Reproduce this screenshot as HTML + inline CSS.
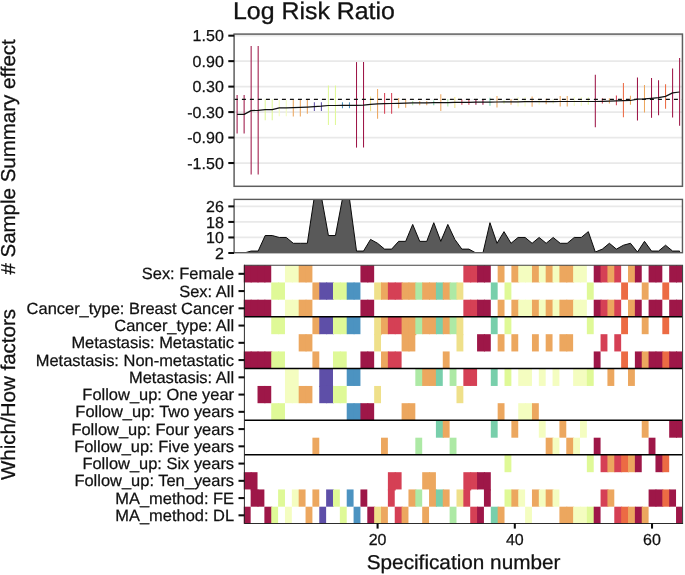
<!DOCTYPE html>
<html lang="en"><head><meta charset="utf-8"><title>Log Risk Ratio</title>
<style>html,body{margin:0;padding:0;background:#fff}svg{display:block;will-change:transform;opacity:.999}text{text-rendering:geometricPrecision}</style></head>
<body>
<svg width="685" height="575" viewBox="0 0 685 575" font-family="Liberation Sans, Arial, Helvetica, sans-serif">
<rect width="685" height="575" fill="#fff"/>
<text transform="translate(233.0,18.85) scale(1.0375,1)" font-size="24.0" fill="#111" stroke="#111" stroke-width="0.3">Log Risk Ratio</text>
<g id="top">
<line x1="234.1" x2="682.45" y1="35.67" y2="35.67" stroke="#E9E9E9" stroke-width="1.75"/>
<line x1="234.1" x2="682.45" y1="61.14" y2="61.14" stroke="#E9E9E9" stroke-width="1.75"/>
<line x1="234.1" x2="682.45" y1="86.61" y2="86.61" stroke="#E9E9E9" stroke-width="1.75"/>
<line x1="234.1" x2="682.45" y1="112.08" y2="112.08" stroke="#E9E9E9" stroke-width="1.75"/>
<line x1="234.1" x2="682.45" y1="137.56" y2="137.56" stroke="#E9E9E9" stroke-width="1.75"/>
<line x1="234.1" x2="682.45" y1="163.03" y2="163.03" stroke="#E9E9E9" stroke-width="1.75"/>
<line x1="237.10" x2="237.10" y1="94.9" y2="133.6" stroke="#9E1748" stroke-width="1.05"/>
<line x1="244.12" x2="244.12" y1="94.9" y2="133.6" stroke="#9E1748" stroke-width="1.05"/>
<line x1="251.15" x2="251.15" y1="46.1" y2="174.4" stroke="#9E1748" stroke-width="1.05"/>
<line x1="258.17" x2="258.17" y1="46.1" y2="174.4" stroke="#9E1748" stroke-width="1.05"/>
<line x1="265.20" x2="265.20" y1="99.5" y2="120.2" stroke="#DFF997" stroke-width="1.05"/>
<line x1="272.22" x2="272.22" y1="99.5" y2="120.2" stroke="#DFF997" stroke-width="1.05"/>
<line x1="279.24" x2="279.24" y1="100" y2="116.2" stroke="#F4FDC0" stroke-width="1.05"/>
<line x1="286.27" x2="286.27" y1="100" y2="116.2" stroke="#F4FDC0" stroke-width="1.05"/>
<line x1="293.29" x2="293.29" y1="100" y2="116.4" stroke="#ECA75F" stroke-width="1.05"/>
<line x1="300.32" x2="300.32" y1="100" y2="116.4" stroke="#ECA75F" stroke-width="1.05"/>
<line x1="307.34" x2="307.34" y1="100" y2="113.7" stroke="#ECA75F" stroke-width="1.05"/>
<line x1="314.36" x2="314.36" y1="102.2" y2="110.9" stroke="#5E4FA8" stroke-width="1.05"/>
<line x1="321.39" x2="321.39" y1="102.2" y2="110.9" stroke="#5E4FA8" stroke-width="1.05"/>
<line x1="328.41" x2="328.41" y1="85.5" y2="125" stroke="#DFF997" stroke-width="1.05"/>
<line x1="335.44" x2="335.44" y1="85.5" y2="125" stroke="#DFF997" stroke-width="1.05"/>
<line x1="342.46" x2="342.46" y1="102.3" y2="108.2" stroke="#4C93C1" stroke-width="1.05"/>
<line x1="349.48" x2="349.48" y1="102.3" y2="108.2" stroke="#4C93C1" stroke-width="1.05"/>
<line x1="356.51" x2="356.51" y1="62.1" y2="147.6" stroke="#9E1748" stroke-width="1.05"/>
<line x1="363.53" x2="363.53" y1="62.1" y2="147.6" stroke="#9E1748" stroke-width="1.05"/>
<line x1="370.56" x2="370.56" y1="96.6" y2="111.3" stroke="#EFE08A" stroke-width="1.05"/>
<line x1="377.58" x2="377.58" y1="89.0" y2="118.8" stroke="#ECA75F" stroke-width="1.05"/>
<line x1="384.60" x2="384.60" y1="93.1" y2="113.75" stroke="#D54055" stroke-width="1.05"/>
<line x1="391.63" x2="391.63" y1="93.1" y2="113.75" stroke="#D54055" stroke-width="1.05"/>
<line x1="398.65" x2="398.65" y1="98" y2="108.3" stroke="#ECA75F" stroke-width="1.05"/>
<line x1="405.68" x2="405.68" y1="99.6" y2="107.8" stroke="#ECA75F" stroke-width="1.05"/>
<line x1="412.70" x2="412.70" y1="101" y2="105.3" stroke="#ADE9A5" stroke-width="1.05"/>
<line x1="419.72" x2="419.72" y1="101" y2="105.2" stroke="#ECA75F" stroke-width="1.05"/>
<line x1="426.75" x2="426.75" y1="101" y2="105.2" stroke="#ECA75F" stroke-width="1.05"/>
<line x1="433.77" x2="433.77" y1="100.4" y2="105.2" stroke="#78CFAB" stroke-width="1.05"/>
<line x1="440.80" x2="440.80" y1="94.3" y2="110.95" stroke="#ECA75F" stroke-width="1.05"/>
<line x1="447.82" x2="447.82" y1="99" y2="106.6" stroke="#ADE9A5" stroke-width="1.05"/>
<line x1="454.84" x2="454.84" y1="96.9" y2="108" stroke="#EFE08A" stroke-width="1.05"/>
<line x1="461.87" x2="461.87" y1="99.6" y2="104.8" stroke="#D54055" stroke-width="1.05"/>
<line x1="468.89" x2="468.89" y1="99.6" y2="104.8" stroke="#D54055" stroke-width="1.05"/>
<line x1="475.92" x2="475.92" y1="99.6" y2="104.8" stroke="#9E1748" stroke-width="1.05"/>
<line x1="482.94" x2="482.94" y1="99.6" y2="104.8" stroke="#9E1748" stroke-width="1.05"/>
<line x1="489.96" x2="489.96" y1="97.8" y2="105.7" stroke="#78CFAB" stroke-width="1.05"/>
<line x1="496.99" x2="496.99" y1="96.1" y2="107.5" stroke="#ECA75F" stroke-width="1.05"/>
<line x1="504.01" x2="504.01" y1="100.3" y2="103.8" stroke="#DFF997" stroke-width="1.05"/>
<line x1="511.04" x2="511.04" y1="99.05" y2="104.8" stroke="#ECA75F" stroke-width="1.05"/>
<line x1="518.06" x2="518.06" y1="96.95" y2="106.6" stroke="#F4FDC0" stroke-width="1.05"/>
<line x1="525.08" x2="525.08" y1="96.95" y2="106.6" stroke="#F4FDC0" stroke-width="1.05"/>
<line x1="532.11" x2="532.11" y1="96.6" y2="106.8" stroke="#ECA75F" stroke-width="1.05"/>
<line x1="539.13" x2="539.13" y1="99.6" y2="104.8" stroke="#F4FDC0" stroke-width="1.05"/>
<line x1="546.16" x2="546.16" y1="98.7" y2="104.3" stroke="#ECA75F" stroke-width="1.05"/>
<line x1="553.18" x2="553.18" y1="99.6" y2="104" stroke="#F4FDC0" stroke-width="1.05"/>
<line x1="560.20" x2="560.20" y1="96.1" y2="106.6" stroke="#ECA75F" stroke-width="1.05"/>
<line x1="567.23" x2="567.23" y1="96.1" y2="106.6" stroke="#ECA75F" stroke-width="1.05"/>
<line x1="574.25" x2="574.25" y1="96.9" y2="106" stroke="#F4FDC0" stroke-width="1.05"/>
<line x1="581.28" x2="581.28" y1="96.9" y2="106" stroke="#F4FDC0" stroke-width="1.05"/>
<line x1="588.30" x2="588.30" y1="97.5" y2="104.8" stroke="#DFF997" stroke-width="1.05"/>
<line x1="595.32" x2="595.32" y1="74.7" y2="127.2" stroke="#9E1748" stroke-width="1.05"/>
<line x1="602.35" x2="602.35" y1="98.3" y2="103.6" stroke="#D54055" stroke-width="1.05"/>
<line x1="609.37" x2="609.37" y1="98.3" y2="103.4" stroke="#ECA75F" stroke-width="1.05"/>
<line x1="616.40" x2="616.40" y1="95.4" y2="105.3" stroke="#D54055" stroke-width="1.05"/>
<line x1="623.42" x2="623.42" y1="83.1" y2="117.3" stroke="#EC6B44" stroke-width="1.05"/>
<line x1="630.44" x2="630.44" y1="95.7" y2="104.8" stroke="#ECA75F" stroke-width="1.05"/>
<line x1="637.47" x2="637.47" y1="77.5" y2="120.6" stroke="#9E1748" stroke-width="1.05"/>
<line x1="644.49" x2="644.49" y1="85" y2="112.5" stroke="#ECA75F" stroke-width="1.05"/>
<line x1="651.52" x2="651.52" y1="78" y2="117.8" stroke="#9E1748" stroke-width="1.05"/>
<line x1="658.54" x2="658.54" y1="80.3" y2="115.3" stroke="#9E1748" stroke-width="1.05"/>
<line x1="665.56" x2="665.56" y1="84.3" y2="108.85" stroke="#EC6B44" stroke-width="1.05"/>
<line x1="672.59" x2="672.59" y1="68.4" y2="117.4" stroke="#9E1748" stroke-width="1.05"/>
<line x1="679.61" x2="679.61" y1="58" y2="125.7" stroke="#9E1748" stroke-width="1.05"/>
<polyline points="237.10,114.4 244.12,114.4 251.15,110.6 258.17,110.4 265.20,109.7 272.22,109.6 279.24,107.8 286.27,107.8 293.29,107.6 300.32,107.4 307.34,107.1 314.36,106.7 321.39,106.2 328.41,105.5 335.44,105.5 342.46,105.3 349.48,105.3 356.51,105.3 363.53,105.2 370.56,104.30000000000001 377.58,103.80000000000001 384.60,103.60000000000001 391.63,103.5 398.65,103.30000000000001 405.68,103.10000000000001 412.70,102.9 419.72,102.9 426.75,102.80000000000001 433.77,102.7 440.80,102.60000000000001 447.82,102.60000000000001 454.84,102.4 461.87,102.35000000000001 468.89,102.30000000000001 475.92,102.2 482.94,102.2 489.96,102.10000000000001 496.99,102.0 504.01,101.9 511.04,101.80000000000001 518.06,101.80000000000001 525.08,101.7 532.11,101.7 539.13,101.60000000000001 546.16,101.60000000000001 553.18,101.60000000000001 560.20,101.5 567.23,101.5 574.25,101.5 581.28,101.5 588.30,101.5 595.32,101.5 602.35,101.30000000000001 609.37,101.10000000000001 616.40,100.9 623.42,100.7 630.44,100.5 637.47,99.2 644.49,98.9 651.52,98.3 658.54,97.6 665.56,96.4 672.59,92.9 679.61,92.0" fill="none" stroke="#111" stroke-width="1.2" stroke-linejoin="round"/>
<line x1="233.9" x2="682.45" y1="99.4" y2="99.4" stroke="#111" stroke-width="1.1" stroke-dasharray="4 4"/>
<rect x="234.1" y="34.1" width="448.35" height="152.20000000000002" fill="none" stroke="#5e5e5e" stroke-width="1.5"/>
<line x1="228.3" x2="234.1" y1="35.67" y2="35.67" stroke="#0d0d0d" stroke-width="2.05"/>
<text transform="translate(223.8,41.47) scale(1.008,1)" font-size="15.9" text-anchor="end" fill="#111" stroke="#111" stroke-width="0.25">1.50</text>
<line x1="228.3" x2="234.1" y1="61.14" y2="61.14" stroke="#0d0d0d" stroke-width="2.05"/>
<text transform="translate(223.8,66.94) scale(1.008,1)" font-size="15.9" text-anchor="end" fill="#111" stroke="#111" stroke-width="0.25">0.90</text>
<line x1="228.3" x2="234.1" y1="86.61" y2="86.61" stroke="#0d0d0d" stroke-width="2.05"/>
<text transform="translate(223.8,92.41) scale(1.008,1)" font-size="15.9" text-anchor="end" fill="#111" stroke="#111" stroke-width="0.25">0.30</text>
<line x1="228.3" x2="234.1" y1="112.08" y2="112.08" stroke="#0d0d0d" stroke-width="2.05"/>
<text transform="translate(223.8,117.88) scale(1.008,1)" font-size="15.9" text-anchor="end" fill="#111" stroke="#111" stroke-width="0.25">-0.30</text>
<line x1="228.3" x2="234.1" y1="137.56" y2="137.56" stroke="#0d0d0d" stroke-width="2.05"/>
<text transform="translate(223.8,143.36) scale(1.008,1)" font-size="15.9" text-anchor="end" fill="#111" stroke="#111" stroke-width="0.25">-0.90</text>
<line x1="228.3" x2="234.1" y1="163.03" y2="163.03" stroke="#0d0d0d" stroke-width="2.05"/>
<text transform="translate(223.8,168.83) scale(1.008,1)" font-size="15.9" text-anchor="end" fill="#111" stroke="#111" stroke-width="0.25">-1.50</text>
</g>
<g id="mid">
<clipPath id="cm"><rect x="234.1" y="199.4" width="448.35" height="53.29999999999998"/></clipPath>
<line x1="234.1" x2="682.45" y1="206.39" y2="206.39" stroke="#E9E9E9" stroke-width="1.75"/>
<line x1="234.1" x2="682.45" y1="221.93" y2="221.93" stroke="#E9E9E9" stroke-width="1.75"/>
<line x1="234.1" x2="682.45" y1="237.46" y2="237.46" stroke="#E9E9E9" stroke-width="1.75"/>
<polygon points="237.10,253.00 237.10,253.00 244.12,253.00 251.15,251.06 258.17,251.06 265.20,235.52 272.22,235.52 279.24,237.46 286.27,237.46 293.29,243.29 300.32,243.29 307.34,243.29 314.36,196.68 321.39,196.68 328.41,235.52 335.44,235.52 342.46,198.62 349.48,198.62 356.51,251.06 363.53,251.06 370.56,239.41 377.58,243.29 384.60,249.12 391.63,249.12 398.65,241.35 405.68,241.35 412.70,224.45 419.72,241.35 426.75,241.35 433.77,222.70 440.80,241.35 447.82,224.45 454.84,239.41 461.87,249.12 468.89,249.12 475.92,253.00 482.94,253.00 489.96,222.70 496.99,243.29 504.01,231.64 511.04,243.29 518.06,237.46 525.08,237.46 532.11,243.29 539.13,237.46 546.16,243.29 553.18,237.46 560.20,243.29 567.23,243.29 574.25,237.46 581.28,237.46 588.30,231.64 595.32,252.03 602.35,249.12 609.37,243.29 616.40,249.12 623.42,245.23 630.44,243.29 637.47,252.03 644.49,241.35 651.52,251.06 658.54,251.06 665.56,245.23 672.59,251.06 679.61,251.06 679.61,253.00" fill="#595959" stroke="#0a0a0a" stroke-width="1.0" stroke-linejoin="round" clip-path="url(#cm)"/>
<rect x="234.1" y="199.4" width="448.35" height="53.29999999999998" fill="none" stroke="#5a5a5a" stroke-width="1.4"/>
<line x1="228.3" x2="234.1" y1="206.39" y2="206.39" stroke="#0d0d0d" stroke-width="2.05"/>
<text transform="translate(223.8,212.19) scale(1.008,1)" font-size="15.9" text-anchor="end" fill="#111" stroke="#111" stroke-width="0.25">26</text>
<line x1="228.3" x2="234.1" y1="221.93" y2="221.93" stroke="#0d0d0d" stroke-width="2.05"/>
<text transform="translate(223.8,227.73) scale(1.008,1)" font-size="15.9" text-anchor="end" fill="#111" stroke="#111" stroke-width="0.25">18</text>
<line x1="228.3" x2="234.1" y1="237.46" y2="237.46" stroke="#0d0d0d" stroke-width="2.05"/>
<text transform="translate(223.8,243.26) scale(1.008,1)" font-size="15.9" text-anchor="end" fill="#111" stroke="#111" stroke-width="0.25">10</text>
<line x1="228.3" x2="234.1" y1="253.00" y2="253.00" stroke="#0d0d0d" stroke-width="2.05"/>
<text transform="translate(223.8,258.80) scale(1.008,1)" font-size="15.9" text-anchor="end" fill="#111" stroke="#111" stroke-width="0.25">2</text>
</g>
<text transform="translate(15.0,274.6) rotate(-90) scale(1.0245,1)" font-size="20.0" fill="#111" stroke="#111" stroke-width="0.28"># Sample Summary effect</text>
<g id="heat">
<rect x="243.80" y="265.20" width="7.86" height="17.25" fill="#9E1748"/>
<rect x="250.66" y="265.20" width="7.86" height="17.25" fill="#9E1748"/>
<rect x="257.52" y="265.20" width="7.86" height="17.25" fill="#9E1748"/>
<rect x="264.38" y="265.20" width="6.86" height="17.25" fill="#9E1748"/>
<rect x="284.97" y="265.20" width="7.86" height="17.25" fill="#F4FDC0"/>
<rect x="291.83" y="265.20" width="7.86" height="17.25" fill="#F4FDC0"/>
<rect x="298.69" y="265.20" width="7.86" height="17.25" fill="#ECA75F"/>
<rect x="305.55" y="265.20" width="6.86" height="17.25" fill="#ECA75F"/>
<rect x="360.44" y="265.20" width="7.86" height="17.25" fill="#9E1748"/>
<rect x="367.30" y="265.20" width="6.86" height="17.25" fill="#9E1748"/>
<rect x="463.35" y="265.20" width="7.86" height="17.25" fill="#D54055"/>
<rect x="470.21" y="265.20" width="7.86" height="17.25" fill="#D54055"/>
<rect x="477.07" y="265.20" width="7.86" height="17.25" fill="#9E1748"/>
<rect x="483.94" y="265.20" width="6.86" height="17.25" fill="#9E1748"/>
<rect x="497.66" y="265.20" width="6.86" height="17.25" fill="#ECA75F"/>
<rect x="511.38" y="265.20" width="7.86" height="17.25" fill="#ECA75F"/>
<rect x="518.24" y="265.20" width="7.86" height="17.25" fill="#F4FDC0"/>
<rect x="525.10" y="265.20" width="7.86" height="17.25" fill="#F4FDC0"/>
<rect x="531.96" y="265.20" width="7.86" height="17.25" fill="#ECA75F"/>
<rect x="538.82" y="265.20" width="7.86" height="17.25" fill="#F4FDC0"/>
<rect x="545.68" y="265.20" width="7.86" height="17.25" fill="#ECA75F"/>
<rect x="552.55" y="265.20" width="7.86" height="17.25" fill="#F4FDC0"/>
<rect x="559.41" y="265.20" width="7.86" height="17.25" fill="#ECA75F"/>
<rect x="566.27" y="265.20" width="7.86" height="17.25" fill="#ECA75F"/>
<rect x="573.13" y="265.20" width="7.86" height="17.25" fill="#F4FDC0"/>
<rect x="579.99" y="265.20" width="6.86" height="17.25" fill="#F4FDC0"/>
<rect x="593.71" y="265.20" width="7.86" height="17.25" fill="#9E1748"/>
<rect x="600.57" y="265.20" width="7.86" height="17.25" fill="#D54055"/>
<rect x="607.43" y="265.20" width="7.86" height="17.25" fill="#ECA75F"/>
<rect x="614.29" y="265.20" width="6.86" height="17.25" fill="#D54055"/>
<rect x="628.02" y="265.20" width="7.86" height="17.25" fill="#ECA75F"/>
<rect x="634.88" y="265.20" width="6.86" height="17.25" fill="#9E1748"/>
<rect x="648.60" y="265.20" width="7.86" height="17.25" fill="#9E1748"/>
<rect x="655.46" y="265.20" width="6.86" height="17.25" fill="#9E1748"/>
<rect x="669.18" y="265.20" width="7.86" height="17.25" fill="#9E1748"/>
<rect x="676.04" y="265.20" width="6.86" height="17.25" fill="#9E1748"/>
<rect x="271.24" y="282.45" width="7.86" height="17.25" fill="#DFF997"/>
<rect x="278.11" y="282.45" width="6.86" height="17.25" fill="#DFF997"/>
<rect x="312.41" y="282.45" width="7.86" height="17.25" fill="#ECA75F"/>
<rect x="319.27" y="282.45" width="7.86" height="17.25" fill="#5E4FA8"/>
<rect x="326.13" y="282.45" width="7.86" height="17.25" fill="#5E4FA8"/>
<rect x="332.99" y="282.45" width="7.86" height="17.25" fill="#DFF997"/>
<rect x="339.85" y="282.45" width="7.86" height="17.25" fill="#DFF997"/>
<rect x="346.72" y="282.45" width="7.86" height="17.25" fill="#4C93C1"/>
<rect x="353.58" y="282.45" width="6.86" height="17.25" fill="#4C93C1"/>
<rect x="374.16" y="282.45" width="7.86" height="17.25" fill="#EFE08A"/>
<rect x="381.02" y="282.45" width="7.86" height="17.25" fill="#ECA75F"/>
<rect x="387.88" y="282.45" width="7.86" height="17.25" fill="#D54055"/>
<rect x="394.74" y="282.45" width="7.86" height="17.25" fill="#D54055"/>
<rect x="401.60" y="282.45" width="7.86" height="17.25" fill="#ECA75F"/>
<rect x="408.46" y="282.45" width="7.86" height="17.25" fill="#ECA75F"/>
<rect x="415.33" y="282.45" width="7.86" height="17.25" fill="#ADE9A5"/>
<rect x="422.19" y="282.45" width="7.86" height="17.25" fill="#ECA75F"/>
<rect x="429.05" y="282.45" width="7.86" height="17.25" fill="#ECA75F"/>
<rect x="435.91" y="282.45" width="7.86" height="17.25" fill="#78CFAB"/>
<rect x="442.77" y="282.45" width="7.86" height="17.25" fill="#ECA75F"/>
<rect x="449.63" y="282.45" width="7.86" height="17.25" fill="#ADE9A5"/>
<rect x="456.49" y="282.45" width="6.86" height="17.25" fill="#EFE08A"/>
<rect x="490.80" y="282.45" width="6.86" height="17.25" fill="#78CFAB"/>
<rect x="504.52" y="282.45" width="6.86" height="17.25" fill="#DFF997"/>
<rect x="586.85" y="282.45" width="6.86" height="17.25" fill="#DFF997"/>
<rect x="621.15" y="282.45" width="6.86" height="17.25" fill="#EC6B44"/>
<rect x="641.74" y="282.45" width="6.86" height="17.25" fill="#ECA75F"/>
<rect x="662.32" y="282.45" width="6.86" height="17.25" fill="#EC6B44"/>
<rect x="243.80" y="299.70" width="7.86" height="17.25" fill="#9E1748"/>
<rect x="250.66" y="299.70" width="7.86" height="17.25" fill="#9E1748"/>
<rect x="257.52" y="299.70" width="7.86" height="17.25" fill="#9E1748"/>
<rect x="264.38" y="299.70" width="6.86" height="17.25" fill="#9E1748"/>
<rect x="284.97" y="299.70" width="7.86" height="17.25" fill="#F4FDC0"/>
<rect x="291.83" y="299.70" width="7.86" height="17.25" fill="#F4FDC0"/>
<rect x="298.69" y="299.70" width="7.86" height="17.25" fill="#ECA75F"/>
<rect x="305.55" y="299.70" width="6.86" height="17.25" fill="#ECA75F"/>
<rect x="360.44" y="299.70" width="7.86" height="17.25" fill="#9E1748"/>
<rect x="367.30" y="299.70" width="6.86" height="17.25" fill="#9E1748"/>
<rect x="463.35" y="299.70" width="7.86" height="17.25" fill="#D54055"/>
<rect x="470.21" y="299.70" width="7.86" height="17.25" fill="#D54055"/>
<rect x="477.07" y="299.70" width="7.86" height="17.25" fill="#9E1748"/>
<rect x="483.94" y="299.70" width="6.86" height="17.25" fill="#9E1748"/>
<rect x="497.66" y="299.70" width="6.86" height="17.25" fill="#ECA75F"/>
<rect x="511.38" y="299.70" width="7.86" height="17.25" fill="#ECA75F"/>
<rect x="518.24" y="299.70" width="7.86" height="17.25" fill="#F4FDC0"/>
<rect x="525.10" y="299.70" width="7.86" height="17.25" fill="#F4FDC0"/>
<rect x="531.96" y="299.70" width="7.86" height="17.25" fill="#ECA75F"/>
<rect x="538.82" y="299.70" width="7.86" height="17.25" fill="#F4FDC0"/>
<rect x="545.68" y="299.70" width="7.86" height="17.25" fill="#ECA75F"/>
<rect x="552.55" y="299.70" width="7.86" height="17.25" fill="#F4FDC0"/>
<rect x="559.41" y="299.70" width="7.86" height="17.25" fill="#ECA75F"/>
<rect x="566.27" y="299.70" width="7.86" height="17.25" fill="#ECA75F"/>
<rect x="573.13" y="299.70" width="7.86" height="17.25" fill="#F4FDC0"/>
<rect x="579.99" y="299.70" width="6.86" height="17.25" fill="#F4FDC0"/>
<rect x="593.71" y="299.70" width="7.86" height="17.25" fill="#9E1748"/>
<rect x="600.57" y="299.70" width="7.86" height="17.25" fill="#D54055"/>
<rect x="607.43" y="299.70" width="7.86" height="17.25" fill="#ECA75F"/>
<rect x="614.29" y="299.70" width="6.86" height="17.25" fill="#D54055"/>
<rect x="628.02" y="299.70" width="7.86" height="17.25" fill="#ECA75F"/>
<rect x="634.88" y="299.70" width="6.86" height="17.25" fill="#9E1748"/>
<rect x="648.60" y="299.70" width="7.86" height="17.25" fill="#9E1748"/>
<rect x="655.46" y="299.70" width="6.86" height="17.25" fill="#9E1748"/>
<rect x="669.18" y="299.70" width="7.86" height="17.25" fill="#9E1748"/>
<rect x="676.04" y="299.70" width="6.86" height="17.25" fill="#9E1748"/>
<rect x="271.24" y="316.95" width="7.86" height="17.25" fill="#DFF997"/>
<rect x="278.11" y="316.95" width="6.86" height="17.25" fill="#DFF997"/>
<rect x="312.41" y="316.95" width="7.86" height="17.25" fill="#ECA75F"/>
<rect x="319.27" y="316.95" width="7.86" height="17.25" fill="#5E4FA8"/>
<rect x="326.13" y="316.95" width="7.86" height="17.25" fill="#5E4FA8"/>
<rect x="332.99" y="316.95" width="7.86" height="17.25" fill="#DFF997"/>
<rect x="339.85" y="316.95" width="7.86" height="17.25" fill="#DFF997"/>
<rect x="346.72" y="316.95" width="7.86" height="17.25" fill="#4C93C1"/>
<rect x="353.58" y="316.95" width="6.86" height="17.25" fill="#4C93C1"/>
<rect x="374.16" y="316.95" width="7.86" height="18.25" fill="#EFE08A"/>
<rect x="381.02" y="316.95" width="7.86" height="17.25" fill="#ECA75F"/>
<rect x="387.88" y="316.95" width="7.86" height="17.25" fill="#D54055"/>
<rect x="394.74" y="316.95" width="7.86" height="17.25" fill="#D54055"/>
<rect x="401.60" y="316.95" width="7.86" height="18.25" fill="#ECA75F"/>
<rect x="408.46" y="316.95" width="7.86" height="18.25" fill="#ECA75F"/>
<rect x="415.33" y="316.95" width="7.86" height="17.25" fill="#ADE9A5"/>
<rect x="422.19" y="316.95" width="7.86" height="17.25" fill="#ECA75F"/>
<rect x="429.05" y="316.95" width="7.86" height="17.25" fill="#ECA75F"/>
<rect x="435.91" y="316.95" width="7.86" height="17.25" fill="#78CFAB"/>
<rect x="442.77" y="316.95" width="7.86" height="17.25" fill="#ECA75F"/>
<rect x="449.63" y="316.95" width="7.86" height="17.25" fill="#ADE9A5"/>
<rect x="456.49" y="316.95" width="6.86" height="18.25" fill="#EFE08A"/>
<rect x="490.80" y="316.95" width="6.86" height="17.25" fill="#78CFAB"/>
<rect x="504.52" y="316.95" width="6.86" height="17.25" fill="#DFF997"/>
<rect x="586.85" y="316.95" width="6.86" height="17.25" fill="#DFF997"/>
<rect x="621.15" y="316.95" width="6.86" height="17.25" fill="#EC6B44"/>
<rect x="641.74" y="316.95" width="6.86" height="17.25" fill="#ECA75F"/>
<rect x="662.32" y="316.95" width="6.86" height="17.25" fill="#EC6B44"/>
<rect x="298.69" y="334.20" width="7.86" height="17.25" fill="#ECA75F"/>
<rect x="305.55" y="334.20" width="6.86" height="17.25" fill="#ECA75F"/>
<rect x="374.16" y="334.20" width="6.86" height="17.25" fill="#EFE08A"/>
<rect x="401.60" y="334.20" width="7.86" height="17.25" fill="#ECA75F"/>
<rect x="408.46" y="334.20" width="6.86" height="17.25" fill="#ECA75F"/>
<rect x="456.49" y="334.20" width="6.86" height="17.25" fill="#EFE08A"/>
<rect x="477.07" y="334.20" width="7.86" height="17.25" fill="#9E1748"/>
<rect x="483.94" y="334.20" width="6.86" height="17.25" fill="#9E1748"/>
<rect x="497.66" y="334.20" width="6.86" height="17.25" fill="#ECA75F"/>
<rect x="511.38" y="334.20" width="6.86" height="17.25" fill="#ECA75F"/>
<rect x="531.96" y="334.20" width="6.86" height="17.25" fill="#ECA75F"/>
<rect x="545.68" y="334.20" width="6.86" height="17.25" fill="#ECA75F"/>
<rect x="559.41" y="334.20" width="7.86" height="17.25" fill="#ECA75F"/>
<rect x="566.27" y="334.20" width="6.86" height="17.25" fill="#ECA75F"/>
<rect x="600.57" y="334.20" width="6.86" height="17.25" fill="#D54055"/>
<rect x="614.29" y="334.20" width="6.86" height="17.25" fill="#D54055"/>
<rect x="243.80" y="351.45" width="7.86" height="17.25" fill="#9E1748"/>
<rect x="250.66" y="351.45" width="7.86" height="17.25" fill="#9E1748"/>
<rect x="257.52" y="351.45" width="7.86" height="17.25" fill="#9E1748"/>
<rect x="264.38" y="351.45" width="7.86" height="17.25" fill="#9E1748"/>
<rect x="271.24" y="351.45" width="7.86" height="17.25" fill="#DFF997"/>
<rect x="278.11" y="351.45" width="6.86" height="17.25" fill="#DFF997"/>
<rect x="312.41" y="351.45" width="6.86" height="17.25" fill="#ECA75F"/>
<rect x="332.99" y="351.45" width="7.86" height="17.25" fill="#DFF997"/>
<rect x="339.85" y="351.45" width="6.86" height="17.25" fill="#DFF997"/>
<rect x="360.44" y="351.45" width="7.86" height="17.25" fill="#9E1748"/>
<rect x="367.30" y="351.45" width="6.86" height="17.25" fill="#9E1748"/>
<rect x="381.02" y="351.45" width="7.86" height="17.25" fill="#ECA75F"/>
<rect x="387.88" y="351.45" width="7.86" height="17.25" fill="#D54055"/>
<rect x="394.74" y="351.45" width="6.86" height="17.25" fill="#D54055"/>
<rect x="442.77" y="351.45" width="6.86" height="17.25" fill="#ECA75F"/>
<rect x="593.71" y="351.45" width="6.86" height="17.25" fill="#9E1748"/>
<rect x="621.15" y="351.45" width="6.86" height="17.25" fill="#EC6B44"/>
<rect x="634.88" y="351.45" width="7.86" height="17.25" fill="#9E1748"/>
<rect x="641.74" y="351.45" width="7.86" height="17.25" fill="#ECA75F"/>
<rect x="648.60" y="351.45" width="7.86" height="17.25" fill="#9E1748"/>
<rect x="655.46" y="351.45" width="7.86" height="17.25" fill="#9E1748"/>
<rect x="662.32" y="351.45" width="7.86" height="17.25" fill="#EC6B44"/>
<rect x="669.18" y="351.45" width="7.86" height="17.25" fill="#9E1748"/>
<rect x="676.04" y="351.45" width="6.86" height="17.25" fill="#9E1748"/>
<rect x="284.97" y="368.70" width="7.86" height="18.25" fill="#F4FDC0"/>
<rect x="291.83" y="368.70" width="6.86" height="18.25" fill="#F4FDC0"/>
<rect x="319.27" y="368.70" width="7.86" height="18.25" fill="#5E4FA8"/>
<rect x="326.13" y="368.70" width="6.86" height="18.25" fill="#5E4FA8"/>
<rect x="346.72" y="368.70" width="7.86" height="17.25" fill="#4C93C1"/>
<rect x="353.58" y="368.70" width="6.86" height="17.25" fill="#4C93C1"/>
<rect x="415.33" y="368.70" width="7.86" height="17.25" fill="#ADE9A5"/>
<rect x="422.19" y="368.70" width="7.86" height="17.25" fill="#ECA75F"/>
<rect x="429.05" y="368.70" width="7.86" height="17.25" fill="#ECA75F"/>
<rect x="435.91" y="368.70" width="6.86" height="17.25" fill="#78CFAB"/>
<rect x="449.63" y="368.70" width="6.86" height="17.25" fill="#ADE9A5"/>
<rect x="463.35" y="368.70" width="7.86" height="17.25" fill="#D54055"/>
<rect x="470.21" y="368.70" width="6.86" height="17.25" fill="#D54055"/>
<rect x="490.80" y="368.70" width="6.86" height="17.25" fill="#78CFAB"/>
<rect x="504.52" y="368.70" width="6.86" height="17.25" fill="#DFF997"/>
<rect x="518.24" y="368.70" width="7.86" height="17.25" fill="#F4FDC0"/>
<rect x="525.10" y="368.70" width="6.86" height="17.25" fill="#F4FDC0"/>
<rect x="538.82" y="368.70" width="6.86" height="17.25" fill="#F4FDC0"/>
<rect x="552.55" y="368.70" width="6.86" height="17.25" fill="#F4FDC0"/>
<rect x="573.13" y="368.70" width="7.86" height="17.25" fill="#F4FDC0"/>
<rect x="579.99" y="368.70" width="7.86" height="17.25" fill="#F4FDC0"/>
<rect x="586.85" y="368.70" width="6.86" height="17.25" fill="#DFF997"/>
<rect x="607.43" y="368.70" width="6.86" height="17.25" fill="#ECA75F"/>
<rect x="628.02" y="368.70" width="6.86" height="17.25" fill="#ECA75F"/>
<rect x="257.52" y="385.95" width="7.86" height="17.25" fill="#9E1748"/>
<rect x="264.38" y="385.95" width="6.86" height="17.25" fill="#9E1748"/>
<rect x="284.97" y="385.95" width="7.86" height="17.25" fill="#F4FDC0"/>
<rect x="291.83" y="385.95" width="7.86" height="17.25" fill="#F4FDC0"/>
<rect x="298.69" y="385.95" width="7.86" height="17.25" fill="#ECA75F"/>
<rect x="305.55" y="385.95" width="6.86" height="17.25" fill="#ECA75F"/>
<rect x="319.27" y="385.95" width="7.86" height="17.25" fill="#5E4FA8"/>
<rect x="326.13" y="385.95" width="7.86" height="17.25" fill="#5E4FA8"/>
<rect x="332.99" y="385.95" width="7.86" height="17.25" fill="#DFF997"/>
<rect x="339.85" y="385.95" width="6.86" height="17.25" fill="#DFF997"/>
<rect x="374.16" y="385.95" width="6.86" height="17.25" fill="#EFE08A"/>
<rect x="456.49" y="385.95" width="6.86" height="17.25" fill="#EFE08A"/>
<rect x="271.24" y="403.20" width="7.86" height="17.25" fill="#DFF997"/>
<rect x="278.11" y="403.20" width="6.86" height="17.25" fill="#DFF997"/>
<rect x="346.72" y="403.20" width="7.86" height="17.25" fill="#4C93C1"/>
<rect x="353.58" y="403.20" width="7.86" height="17.25" fill="#4C93C1"/>
<rect x="360.44" y="403.20" width="7.86" height="17.25" fill="#9E1748"/>
<rect x="367.30" y="403.20" width="6.86" height="17.25" fill="#9E1748"/>
<rect x="401.60" y="403.20" width="7.86" height="17.25" fill="#ECA75F"/>
<rect x="408.46" y="403.20" width="6.86" height="17.25" fill="#ECA75F"/>
<rect x="497.66" y="403.20" width="6.86" height="17.25" fill="#ECA75F"/>
<rect x="518.24" y="403.20" width="7.86" height="17.25" fill="#F4FDC0"/>
<rect x="525.10" y="403.20" width="7.86" height="17.25" fill="#F4FDC0"/>
<rect x="531.96" y="403.20" width="6.86" height="17.25" fill="#ECA75F"/>
<rect x="435.91" y="420.45" width="7.86" height="17.25" fill="#78CFAB"/>
<rect x="442.77" y="420.45" width="6.86" height="17.25" fill="#ECA75F"/>
<rect x="490.80" y="420.45" width="6.86" height="17.25" fill="#78CFAB"/>
<rect x="511.38" y="420.45" width="6.86" height="17.25" fill="#ECA75F"/>
<rect x="538.82" y="420.45" width="6.86" height="17.25" fill="#F4FDC0"/>
<rect x="559.41" y="420.45" width="6.86" height="17.25" fill="#ECA75F"/>
<rect x="579.99" y="420.45" width="6.86" height="17.25" fill="#F4FDC0"/>
<rect x="641.74" y="420.45" width="6.86" height="17.25" fill="#ECA75F"/>
<rect x="669.18" y="420.45" width="7.86" height="17.25" fill="#9E1748"/>
<rect x="676.04" y="420.45" width="6.86" height="17.25" fill="#9E1748"/>
<rect x="312.41" y="437.70" width="6.86" height="17.25" fill="#ECA75F"/>
<rect x="381.02" y="437.70" width="6.86" height="17.25" fill="#ECA75F"/>
<rect x="415.33" y="437.70" width="6.86" height="17.25" fill="#ADE9A5"/>
<rect x="449.63" y="437.70" width="6.86" height="17.25" fill="#ADE9A5"/>
<rect x="545.68" y="437.70" width="7.86" height="17.25" fill="#ECA75F"/>
<rect x="552.55" y="437.70" width="6.86" height="17.25" fill="#F4FDC0"/>
<rect x="566.27" y="437.70" width="7.86" height="17.25" fill="#ECA75F"/>
<rect x="573.13" y="437.70" width="6.86" height="17.25" fill="#F4FDC0"/>
<rect x="593.71" y="437.70" width="6.86" height="17.25" fill="#9E1748"/>
<rect x="648.60" y="437.70" width="6.86" height="17.25" fill="#9E1748"/>
<rect x="504.52" y="454.95" width="6.86" height="17.25" fill="#DFF997"/>
<rect x="586.85" y="454.95" width="6.86" height="17.25" fill="#DFF997"/>
<rect x="600.57" y="454.95" width="7.86" height="17.25" fill="#D54055"/>
<rect x="607.43" y="454.95" width="7.86" height="17.25" fill="#ECA75F"/>
<rect x="614.29" y="454.95" width="7.86" height="17.25" fill="#D54055"/>
<rect x="621.15" y="454.95" width="7.86" height="17.25" fill="#EC6B44"/>
<rect x="628.02" y="454.95" width="7.86" height="17.25" fill="#ECA75F"/>
<rect x="634.88" y="454.95" width="6.86" height="17.25" fill="#9E1748"/>
<rect x="655.46" y="454.95" width="7.86" height="17.25" fill="#9E1748"/>
<rect x="662.32" y="454.95" width="6.86" height="17.25" fill="#EC6B44"/>
<rect x="243.80" y="472.20" width="7.86" height="17.25" fill="#9E1748"/>
<rect x="250.66" y="472.20" width="6.86" height="18.25" fill="#9E1748"/>
<rect x="387.88" y="472.20" width="7.86" height="18.25" fill="#D54055"/>
<rect x="394.74" y="472.20" width="6.86" height="17.25" fill="#D54055"/>
<rect x="422.19" y="472.20" width="7.86" height="17.25" fill="#ECA75F"/>
<rect x="429.05" y="472.20" width="6.86" height="18.25" fill="#ECA75F"/>
<rect x="463.35" y="472.20" width="7.86" height="18.25" fill="#D54055"/>
<rect x="470.21" y="472.20" width="7.86" height="17.25" fill="#D54055"/>
<rect x="477.07" y="472.20" width="7.86" height="17.25" fill="#9E1748"/>
<rect x="483.94" y="472.20" width="6.86" height="18.25" fill="#9E1748"/>
<rect x="250.66" y="489.45" width="7.86" height="17.25" fill="#9E1748"/>
<rect x="257.52" y="489.45" width="6.86" height="17.25" fill="#9E1748"/>
<rect x="278.11" y="489.45" width="6.86" height="17.25" fill="#DFF997"/>
<rect x="291.83" y="489.45" width="7.86" height="17.25" fill="#F4FDC0"/>
<rect x="298.69" y="489.45" width="6.86" height="17.25" fill="#ECA75F"/>
<rect x="312.41" y="489.45" width="6.86" height="17.25" fill="#ECA75F"/>
<rect x="326.13" y="489.45" width="7.86" height="17.25" fill="#5E4FA8"/>
<rect x="332.99" y="489.45" width="6.86" height="17.25" fill="#DFF997"/>
<rect x="346.72" y="489.45" width="6.86" height="17.25" fill="#4C93C1"/>
<rect x="360.44" y="489.45" width="6.86" height="17.25" fill="#9E1748"/>
<rect x="387.88" y="489.45" width="6.86" height="17.25" fill="#D54055"/>
<rect x="408.46" y="489.45" width="7.86" height="17.25" fill="#ECA75F"/>
<rect x="415.33" y="489.45" width="6.86" height="17.25" fill="#ADE9A5"/>
<rect x="429.05" y="489.45" width="7.86" height="17.25" fill="#ECA75F"/>
<rect x="435.91" y="489.45" width="7.86" height="17.25" fill="#78CFAB"/>
<rect x="442.77" y="489.45" width="6.86" height="17.25" fill="#ECA75F"/>
<rect x="456.49" y="489.45" width="7.86" height="17.25" fill="#EFE08A"/>
<rect x="463.35" y="489.45" width="6.86" height="17.25" fill="#D54055"/>
<rect x="483.94" y="489.45" width="6.86" height="17.25" fill="#9E1748"/>
<rect x="504.52" y="489.45" width="7.86" height="17.25" fill="#DFF997"/>
<rect x="511.38" y="489.45" width="7.86" height="17.25" fill="#ECA75F"/>
<rect x="518.24" y="489.45" width="6.86" height="17.25" fill="#F4FDC0"/>
<rect x="531.96" y="489.45" width="7.86" height="17.25" fill="#ECA75F"/>
<rect x="538.82" y="489.45" width="7.86" height="17.25" fill="#F4FDC0"/>
<rect x="545.68" y="489.45" width="7.86" height="17.25" fill="#ECA75F"/>
<rect x="552.55" y="489.45" width="6.86" height="17.25" fill="#F4FDC0"/>
<rect x="600.57" y="489.45" width="7.86" height="17.25" fill="#D54055"/>
<rect x="607.43" y="489.45" width="6.86" height="17.25" fill="#ECA75F"/>
<rect x="648.60" y="489.45" width="7.86" height="17.25" fill="#9E1748"/>
<rect x="655.46" y="489.45" width="7.86" height="17.25" fill="#9E1748"/>
<rect x="662.32" y="489.45" width="7.86" height="17.25" fill="#EC6B44"/>
<rect x="669.18" y="489.45" width="6.86" height="17.25" fill="#9E1748"/>
<rect x="243.80" y="506.70" width="6.86" height="17.25" fill="#9E1748"/>
<rect x="264.38" y="506.70" width="7.86" height="17.25" fill="#9E1748"/>
<rect x="271.24" y="506.70" width="6.86" height="17.25" fill="#DFF997"/>
<rect x="284.97" y="506.70" width="6.86" height="17.25" fill="#F4FDC0"/>
<rect x="305.55" y="506.70" width="6.86" height="17.25" fill="#ECA75F"/>
<rect x="319.27" y="506.70" width="6.86" height="17.25" fill="#5E4FA8"/>
<rect x="339.85" y="506.70" width="6.86" height="17.25" fill="#DFF997"/>
<rect x="353.58" y="506.70" width="6.86" height="17.25" fill="#4C93C1"/>
<rect x="367.30" y="506.70" width="7.86" height="17.25" fill="#9E1748"/>
<rect x="374.16" y="506.70" width="7.86" height="17.25" fill="#EFE08A"/>
<rect x="381.02" y="506.70" width="6.86" height="17.25" fill="#ECA75F"/>
<rect x="394.74" y="506.70" width="7.86" height="17.25" fill="#D54055"/>
<rect x="401.60" y="506.70" width="6.86" height="17.25" fill="#ECA75F"/>
<rect x="422.19" y="506.70" width="6.86" height="17.25" fill="#ECA75F"/>
<rect x="449.63" y="506.70" width="6.86" height="17.25" fill="#ADE9A5"/>
<rect x="470.21" y="506.70" width="7.86" height="17.25" fill="#D54055"/>
<rect x="477.07" y="506.70" width="6.86" height="17.25" fill="#9E1748"/>
<rect x="490.80" y="506.70" width="7.86" height="17.25" fill="#78CFAB"/>
<rect x="497.66" y="506.70" width="6.86" height="17.25" fill="#ECA75F"/>
<rect x="525.10" y="506.70" width="6.86" height="17.25" fill="#F4FDC0"/>
<rect x="559.41" y="506.70" width="7.86" height="17.25" fill="#ECA75F"/>
<rect x="566.27" y="506.70" width="7.86" height="17.25" fill="#ECA75F"/>
<rect x="573.13" y="506.70" width="7.86" height="17.25" fill="#F4FDC0"/>
<rect x="579.99" y="506.70" width="7.86" height="17.25" fill="#F4FDC0"/>
<rect x="586.85" y="506.70" width="7.86" height="17.25" fill="#DFF997"/>
<rect x="593.71" y="506.70" width="6.86" height="17.25" fill="#9E1748"/>
<rect x="614.29" y="506.70" width="7.86" height="17.25" fill="#D54055"/>
<rect x="621.15" y="506.70" width="7.86" height="17.25" fill="#EC6B44"/>
<rect x="628.02" y="506.70" width="7.86" height="17.25" fill="#ECA75F"/>
<rect x="634.88" y="506.70" width="7.86" height="17.25" fill="#9E1748"/>
<rect x="641.74" y="506.70" width="6.86" height="17.25" fill="#ECA75F"/>
<rect x="676.04" y="506.70" width="6.86" height="17.25" fill="#9E1748"/>
</g>
<line x1="244.3" x2="682.90" y1="316.80" y2="316.80" stroke="#000" stroke-width="1.6"/>
<line x1="244.3" x2="682.90" y1="368.55" y2="368.55" stroke="#000" stroke-width="1.6"/>
<line x1="244.3" x2="682.90" y1="420.30" y2="420.30" stroke="#000" stroke-width="1.6"/>
<line x1="244.3" x2="682.90" y1="454.80" y2="454.80" stroke="#000" stroke-width="1.6"/>
<path d="M244.4 265.2 H682.55 V523.5" fill="none" stroke="#444" stroke-width="1.1"/>
<path d="M244.4 264.7 V523.5 H683.1" fill="none" stroke="#222" stroke-width="0.95"/>
<line x1="238.5" x2="244.4" y1="273.82" y2="273.82" stroke="#0d0d0d" stroke-width="2.05"/>
<text transform="translate(234.1,279.43) scale(1.01,1)" font-size="16.3" text-anchor="end" fill="#111" stroke="#111" stroke-width="0.25">Sex: Female</text>
<line x1="238.5" x2="244.4" y1="291.07" y2="291.07" stroke="#0d0d0d" stroke-width="2.05"/>
<text transform="translate(234.1,296.68) scale(1.01,1)" font-size="16.3" text-anchor="end" fill="#111" stroke="#111" stroke-width="0.25">Sex: All</text>
<line x1="238.5" x2="244.4" y1="308.32" y2="308.32" stroke="#0d0d0d" stroke-width="2.05"/>
<text transform="translate(234.1,313.93) scale(1.01,1)" font-size="16.3" text-anchor="end" fill="#111" stroke="#111" stroke-width="0.25">Cancer_type: Breast Cancer</text>
<line x1="238.5" x2="244.4" y1="325.57" y2="325.57" stroke="#0d0d0d" stroke-width="2.05"/>
<text transform="translate(234.1,331.18) scale(1.01,1)" font-size="16.3" text-anchor="end" fill="#111" stroke="#111" stroke-width="0.25">Cancer_type: All</text>
<line x1="238.5" x2="244.4" y1="342.82" y2="342.82" stroke="#0d0d0d" stroke-width="2.05"/>
<text transform="translate(234.1,348.43) scale(1.01,1)" font-size="16.3" text-anchor="end" fill="#111" stroke="#111" stroke-width="0.25">Metastasis: Metastatic</text>
<line x1="238.5" x2="244.4" y1="360.07" y2="360.07" stroke="#0d0d0d" stroke-width="2.05"/>
<text transform="translate(234.1,365.68) scale(1.01,1)" font-size="16.3" text-anchor="end" fill="#111" stroke="#111" stroke-width="0.25">Metastasis: Non-metastatic</text>
<line x1="238.5" x2="244.4" y1="377.33" y2="377.33" stroke="#0d0d0d" stroke-width="2.05"/>
<text transform="translate(234.1,382.93) scale(1.01,1)" font-size="16.3" text-anchor="end" fill="#111" stroke="#111" stroke-width="0.25">Metastasis: All</text>
<line x1="238.5" x2="244.4" y1="394.58" y2="394.58" stroke="#0d0d0d" stroke-width="2.05"/>
<text transform="translate(234.1,400.18) scale(1.01,1)" font-size="16.3" text-anchor="end" fill="#111" stroke="#111" stroke-width="0.25">Follow_up: One year</text>
<line x1="238.5" x2="244.4" y1="411.83" y2="411.83" stroke="#0d0d0d" stroke-width="2.05"/>
<text transform="translate(234.1,417.43) scale(1.01,1)" font-size="16.3" text-anchor="end" fill="#111" stroke="#111" stroke-width="0.25">Follow_up: Two years</text>
<line x1="238.5" x2="244.4" y1="429.08" y2="429.08" stroke="#0d0d0d" stroke-width="2.05"/>
<text transform="translate(234.1,434.68) scale(1.01,1)" font-size="16.3" text-anchor="end" fill="#111" stroke="#111" stroke-width="0.25">Follow_up: Four years</text>
<line x1="238.5" x2="244.4" y1="446.33" y2="446.33" stroke="#0d0d0d" stroke-width="2.05"/>
<text transform="translate(234.1,451.93) scale(1.01,1)" font-size="16.3" text-anchor="end" fill="#111" stroke="#111" stroke-width="0.25">Follow_up: Five years</text>
<line x1="238.5" x2="244.4" y1="463.58" y2="463.58" stroke="#0d0d0d" stroke-width="2.05"/>
<text transform="translate(234.1,469.18) scale(1.01,1)" font-size="16.3" text-anchor="end" fill="#111" stroke="#111" stroke-width="0.25">Follow_up: Six years</text>
<line x1="238.5" x2="244.4" y1="480.83" y2="480.83" stroke="#0d0d0d" stroke-width="2.05"/>
<text transform="translate(234.1,486.43) scale(1.01,1)" font-size="16.3" text-anchor="end" fill="#111" stroke="#111" stroke-width="0.25">Follow_up: Ten_years</text>
<line x1="238.5" x2="244.4" y1="498.08" y2="498.08" stroke="#0d0d0d" stroke-width="2.05"/>
<text transform="translate(234.1,503.68) scale(1.01,1)" font-size="16.3" text-anchor="end" fill="#111" stroke="#111" stroke-width="0.25">MA_method: FE</text>
<line x1="238.5" x2="244.4" y1="515.33" y2="515.33" stroke="#0d0d0d" stroke-width="2.05"/>
<text transform="translate(234.1,520.93) scale(1.01,1)" font-size="16.3" text-anchor="end" fill="#111" stroke="#111" stroke-width="0.25">MA_method: DL</text>
<line x1="377.59" x2="377.59" y1="523.5" y2="528.6" stroke="#0d0d0d" stroke-width="2.05"/>
<text transform="translate(377.59,544.5) scale(1.008,1)" font-size="15.9" text-anchor="middle" fill="#111" stroke="#111" stroke-width="0.25">20</text>
<line x1="514.81" x2="514.81" y1="523.5" y2="528.6" stroke="#0d0d0d" stroke-width="2.05"/>
<text transform="translate(514.81,544.5) scale(1.008,1)" font-size="15.9" text-anchor="middle" fill="#111" stroke="#111" stroke-width="0.25">40</text>
<line x1="652.03" x2="652.03" y1="523.5" y2="528.6" stroke="#0d0d0d" stroke-width="2.05"/>
<text transform="translate(652.03,544.5) scale(1.008,1)" font-size="15.9" text-anchor="middle" fill="#111" stroke="#111" stroke-width="0.25">60</text>
<text transform="translate(463.6,568.8) scale(1.0375,1)" font-size="20.0" text-anchor="middle" fill="#111" stroke="#111" stroke-width="0.28">Specification number</text>
<text transform="translate(15.1,480.1) rotate(-90) scale(1.027,1)" font-size="20.0" fill="#111" stroke="#111" stroke-width="0.28">Which/How factors</text>
</svg>
</body></html>
